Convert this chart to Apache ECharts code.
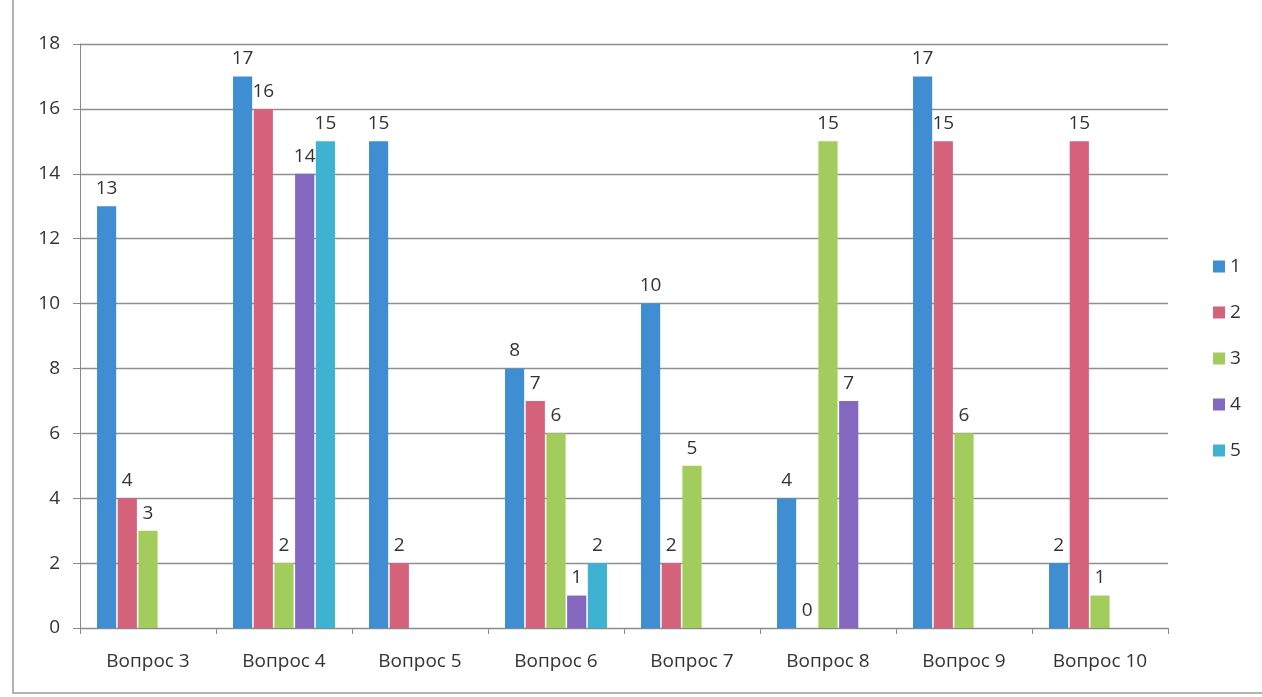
<!DOCTYPE html>
<html><head><meta charset="utf-8">
<script src="https://cdn.jsdelivr.net/npm/echarts@6/dist/echarts.min.js"></script>
<style>html,body{margin:0;padding:0;background:#fff}#c{width:1262px;height:697px}</style>
</head><body><div id="c"></div>
<script>
const categories = ['Вопрос 3','Вопрос 4','Вопрос 5','Вопрос 6','Вопрос 7','Вопрос 8','Вопрос 9','Вопрос 10'];
const seriesNames = ['1','2','3','4','5'];
const s1 = [13, 17, 15, 8, 10, 4, 17, 2];
const s2 = [4, 16, 2, 7, 2, 0, 15, 15];
const s3 = [3, 2, null, 6, 5, 15, 6, 1];
const s4 = [null, 14, null, 1, null, 7, null, null];
const s5 = [null, 15, null, 2, null, null, null, null];
const yTicks = [0, 2, 4, 6, 8, 10, 12, 14, 16, 18];
const colors = ['#3f8ed2', '#d3627a', '#a2cd5c', '#8468c0', '#3eb2cf'];

const chart = echarts.init(document.getElementById('c'), null, {renderer: 'canvas'});
const font = '"Open Sans", Lato, sans-serif';
const allData = [s1, s2, s3, s4, s5];
chart.setOption({
  animation: false,
  color: colors,
  textStyle: {fontFamily: font},
  graphic: [{type: 'rect', shape: {x: 13, y: -5, width: 1262, height: 698}, style: {fill: 'none', stroke: '#9a9a9a', lineWidth: 1.5}}],
  legend: {
    orient: 'vertical', left: 1208, top: 252,
    itemWidth: 12, itemHeight: 12, itemGap: 27,
    icon: 'rect',
    textStyle: {fontSize: 19, color: '#333', fontFamily: font},
    data: seriesNames
  },
  grid: {left: 80, right: 94, top: 44, bottom: 69},
  xAxis: {
    type: 'category', data: categories,
    axisLine: {lineStyle: {color: '#8a8a8a', width: 1}},
    axisTick: {show: true, length: 6, lineStyle: {color: '#8a8a8a'}},
    axisLabel: {fontSize: 19, color: '#333', margin: 24, fontFamily: font}
  },
  yAxis: {
    type: 'value', min: yTicks[0], max: yTicks[yTicks.length - 1], interval: 2,
    axisLine: {show: true, lineStyle: {color: '#8a8a8a'}},
    axisTick: {show: true, length: 7, lineStyle: {color: '#8a8a8a'}},
    axisLabel: {fontSize: 19, color: '#333', margin: 20, fontFamily: font},
    splitLine: {lineStyle: {color: '#8f8f8f', width: 1.3}}
  },
  series: seriesNames.map((n, i) => ({
    name: n, type: 'bar', data: allData[i],
    barGap: '8%', barCategoryGap: '25%',
    label: {show: true, position: 'top', fontSize: 19, color: '#333', fontFamily: font, distance: 8}
  }))
});
</script></body></html>
